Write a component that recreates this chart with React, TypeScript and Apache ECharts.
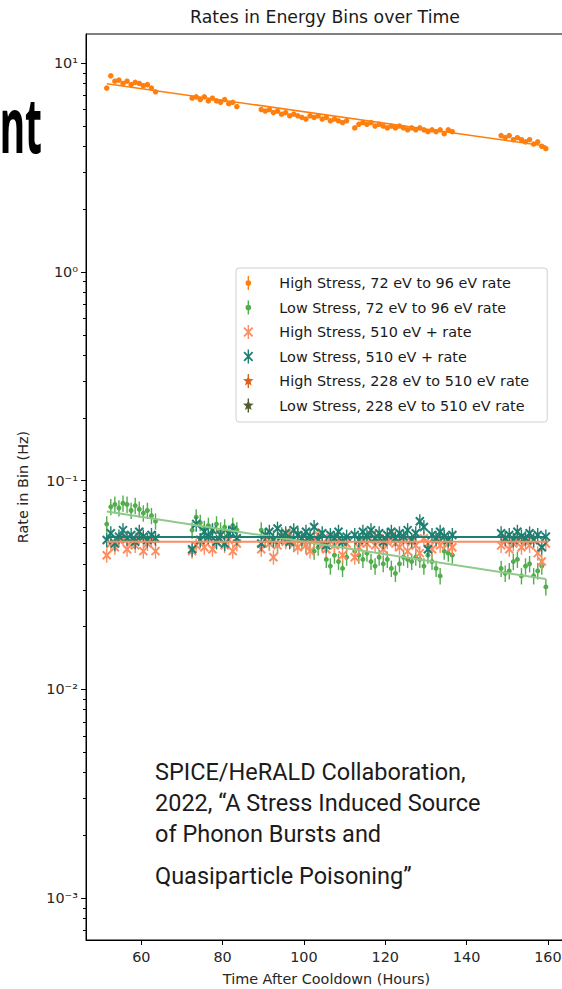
import React, { useEffect, useRef } from "react";
import * as echarts from "echarts";

// ---------- data ----------
const hours = [
  51.5, 52.5, 53.5, 54.5, 55.5, 56.5, 57.5, 58.5, 59.5, 60.5, 61.5, 62.5, 63.5,
  72.5, 73.5, 74.5, 75.5, 76.5, 77.5, 78.5, 79.5, 80.5, 81.5, 82.5, 83.5,
  89.5, 90.5, 91.5, 92.5, 93.5, 94.5, 95.5, 96.5, 97.5, 98.5, 99.5, 100.5, 101.5, 102.5, 103.5, 104.5, 105.5, 106.5, 107.5, 108.5, 109.5, 110.5,
  112.5, 113.5, 114.5, 115.5, 116.5, 117.5, 118.5, 119.5, 120.5, 121.5, 122.5, 123.5, 124.5, 125.5, 126.5, 127.5, 128.5, 129.5, 130.5, 131.5, 132.5, 133.5, 134.5, 135.5, 136.5,
  148.5, 149.5, 150.5, 151.5, 152.5, 153.5, 154.5, 155.5, 156.5, 157.5, 158.5, 159.5,
];

const highStress72to96 = [
  7.6, 8.7, 8.2, 8.3, 8.0, 8.2, 7.9, 8.1, 8.0, 7.8, 7.9, 7.6, 7.3,
  6.8, 6.9, 6.7, 6.9, 6.6, 6.8, 6.6, 6.5, 6.7, 6.4, 6.5, 6.2,
  6.0, 5.9, 6.0, 5.8, 5.9, 5.7, 5.8, 5.6, 5.7, 5.6, 5.5, 5.4, 5.6, 5.5, 5.6, 5.4, 5.5, 5.3, 5.4, 5.3, 5.2, 5.3,
  4.9, 5.1, 5.2, 5.1, 5.2, 5.0, 5.1, 5.0, 4.9, 5.0, 4.9, 5.0, 4.9, 4.8, 4.9, 4.8, 4.9, 4.8, 4.7, 4.8, 4.7, 4.8, 4.6, 4.8, 4.7,
  4.5, 4.4, 4.5, 4.3, 4.4, 4.3, 4.2, 4.3, 4.1, 4.2, 4.0, 3.9,
];

const lowStress72to96 = [
  0.062, 0.075, 0.077, 0.074, 0.078, 0.077, 0.072, 0.076, 0.073, 0.070, 0.072, 0.068, 0.064,
  0.058, 0.067, 0.063, 0.059, 0.061, 0.057, 0.062, 0.058, 0.060, 0.056, 0.061, 0.058,
  0.058, 0.054, 0.051, 0.053, 0.049, 0.055, 0.052, 0.054, 0.050, 0.056, 0.051, 0.049, 0.052, 0.046, 0.048, 0.050, 0.042, 0.039, 0.044, 0.041, 0.038, 0.043,
  0.046, 0.044, 0.042, 0.045, 0.041, 0.039, 0.043, 0.040, 0.042, 0.038, 0.036, 0.040, 0.043, 0.042, 0.041, 0.043, 0.042, 0.039, 0.044, 0.041, 0.038, 0.035, 0.046, 0.045, 0.044,
  0.038, 0.036, 0.037, 0.041, 0.042, 0.035, 0.039, 0.040, 0.035, 0.037, 0.039, 0.031,
];

const highStress510plus = [
  0.044, 0.050, 0.048, 0.052, 0.053, 0.047, 0.051, 0.049, 0.054, 0.046, 0.050, 0.052, 0.046,
  0.046, 0.049, 0.052, 0.048, 0.053, 0.047, 0.051, 0.055, 0.049, 0.052, 0.046, 0.050,
  0.047, 0.052, 0.050, 0.043, 0.049, 0.054, 0.051, 0.056, 0.050, 0.048, 0.053, 0.049, 0.046, 0.052, 0.055, 0.050, 0.047, 0.053, 0.049, 0.051, 0.044, 0.050,
  0.043, 0.048, 0.052, 0.050, 0.055, 0.049, 0.053, 0.047, 0.051, 0.054, 0.050, 0.048, 0.052, 0.046, 0.051, 0.049, 0.045, 0.053, 0.050, 0.047, 0.052, 0.049, 0.054, 0.050, 0.048,
  0.049, 0.052, 0.047, 0.050, 0.053, 0.048, 0.051, 0.049, 0.052, 0.045, 0.041, 0.050,
];

const lowStress510plus = [
  0.052, 0.056, 0.050, 0.054, 0.058, 0.053, 0.055, 0.051, 0.057, 0.054, 0.052, 0.055, 0.053,
  0.047, 0.062, 0.052, 0.057, 0.054, 0.058, 0.051, 0.055, 0.050, 0.056, 0.058, 0.053,
  0.050, 0.055, 0.057, 0.052, 0.059, 0.054, 0.056, 0.051, 0.058, 0.055, 0.053, 0.057, 0.054, 0.060, 0.052, 0.056, 0.049, 0.055, 0.053, 0.057, 0.051, 0.054,
  0.055, 0.052, 0.057, 0.054, 0.058, 0.053, 0.056, 0.051, 0.055, 0.057, 0.053, 0.056, 0.054, 0.058, 0.052, 0.056, 0.064, 0.060, 0.047, 0.055, 0.053, 0.057, 0.054, 0.052, 0.055,
  0.056, 0.053, 0.055, 0.052, 0.057, 0.054, 0.053, 0.056, 0.052, 0.055, 0.048, 0.054,
];

const highStress228to510: number[] = [];
const lowStress228to510: number[] = [];

// relative errors (fraction of value)
const relErrHigh72 = 0.02;
const relErrLow72 = 0.09;
const relErrHigh510 = 0.08;
const relErrLow510 = 0.08;

// fitted exponential lines: [start hour, end hour] and rates
const fitHours = [51.5, 159.5];
const fitHigh72 = [7.97, 4.01];
const fitLow72 = [0.0713, 0.0338];
const fitHigh510 = [0.051, 0.051];
const fitLow510 = [0.0537, 0.0537];

const seriesNames = [
  "High Stress, 72 eV to 96 eV rate",
  "Low Stress, 72 eV to 96 eV rate",
  "High Stress, 510 eV + rate",
  "Low Stress, 510 eV + rate",
  "High Stress, 228 eV to 510 eV rate",
  "Low Stress, 228 eV to 510 eV rate",
];

const xTickValues = [60, 80, 100, 120, 140, 160];
const yDecades = [-3, -2, -1, 0, 1];
const yTickLabels = ["10⁻³", "10⁻²", "10⁻¹", "10⁰", "10¹"];
const minorFactors = [2, 3, 4, 5, 6, 7, 8, 9];

const annotationLines = [
  "SPICE/HeRALD Collaboration,",
  "2022, “A Stress Induced Source",
  "of Phonon Bursts and",
  "Quasiparticle Poisoning”",
];

// ---------- styles ----------
const C_ORANGE = "#ff7f0e";
const C_GREEN = "#52ad4c";
const C_GREEN_LINE = "#8fc98b";
const C_CORAL = "#fc8d62";
const C_TEAL = "#1c7f71";
const C_DKORANGE = "#d6641c";
const C_OLIVE = "#4f5b31";
const FONT = "DejaVu Sans";

const ICON_DOT = "path://M4.5,0H5.5V10H4.5Z M3,5A2,2 0 1,1 7,5A2,2 0 1,1 3,5Z";
const ICON_X =
  "path://M4.5,0H5.5V10H4.5Z M1.5,2.4L2.4,1.5L5,4.1L7.6,1.5L8.5,2.4L5.9,5L8.5,7.6L7.6,8.5L5,5.9L2.4,8.5L1.5,7.6L4.1,5Z";
const ICON_STAR =
  "path://M4.5,0H5.5V10H4.5Z M5,1L6,3.62L8.8,3.76L6.62,5.53L7.35,8.24L5,6.7L2.65,8.24L3.38,5.53L1.2,3.76L4,3.62Z";

const log10 = (v: number) => Math.log10(v);

function errSeries(
  name: string,
  values: number[],
  relErr: number,
  color: string,
  marker: "dot" | "x" | "star",
  size: number,
  z: number
) {
  return {
    name,
    type: "custom",
    coordinateSystem: "cartesian2d",
    itemStyle: { color },
    encode: { x: 0, y: 1 },
    z,
    clip: true,
    data: values.map((v, i) => [
      hours[i],
      log10(v),
      log10(v * (1 - relErr)),
      log10(v * (1 + relErr)),
    ]),
    renderItem: (params: any, api: any) => {
      const t = api.value(0);
      const p = api.coord([t, api.value(1)]);
      const lo = api.coord([t, api.value(2)]);
      const hi = api.coord([t, api.value(3)]);
      const children: any[] = [
        {
          type: "line",
          shape: { x1: p[0], y1: lo[1], x2: p[0], y2: hi[1] },
          style: { stroke: color, lineWidth: 1.4 },
        },
      ];
      if (marker === "dot") {
        children.push({
          type: "circle",
          shape: { cx: p[0], cy: p[1], r: size / 2 },
          style: { fill: color },
        });
      } else {
        const h = size / 2;
        children.push(
          {
            type: "line",
            shape: { x1: p[0] - h, y1: p[1] - h, x2: p[0] + h, y2: p[1] + h },
            style: { stroke: color, lineWidth: 2 },
          },
          {
            type: "line",
            shape: { x1: p[0] - h, y1: p[1] + h, x2: p[0] + h, y2: p[1] - h },
            style: { stroke: color, lineWidth: 2 },
          }
        );
      }
      return { type: "group", children };
    },
  };
}

function fitSeries(name: string, rates: number[], color: string, width: number, z: number) {
  return {
    name,
    type: "line",
    showSymbol: false,
    symbol: "none",
    silent: true,
    z,
    lineStyle: { color, width },
    itemStyle: { color },
    data: fitHours.map((h, i) => [h, log10(rates[i])]),
  };
}

export default function App() {
  const ref = useRef<HTMLDivElement>(null);

  useEffect(() => {
    document.body.style.margin = "0";
    if (!ref.current) return;
    const chart = echarts.init(ref.current, undefined, { renderer: "svg" });

    const minorTicks: number[] = [];
    for (let d = -4; d <= 1; d++) {
      for (const k of minorFactors) {
        const v = d + log10(k);
        if (v > -3.2 && v < 1.14) minorTicks.push(v);
      }
    }

    const option: any = {
      animation: false,
      backgroundColor: "#ffffff",
      textStyle: { fontFamily: FONT },
      grid: {
        left: 86,
        top: 34,
        right: -5,
        bottom: 49,
        outerBoundsMode: "none",
        containLabel: false,
        show: true,
        borderColor: "#000",
        borderWidth: 1,
        backgroundColor: "transparent",
      },
      xAxis: {
        type: "value",
        min: 46.4,
        max: 164.7,
        splitLine: { show: false },
        axisLine: { show: true, onZero: false, lineStyle: { color: "#000", width: 1 } },
        axisTick: { show: true, customValues: xTickValues, length: 5, lineStyle: { color: "#000" } },
        axisLabel: {
          customValues: xTickValues,
          fontSize: 14.4,
          color: "#262626",
          margin: 10,
          fontFamily: FONT,
        },
        name: "Time After Cooldown (Hours)",
        nameLocation: "middle",
        nameGap: 32,
        nameTextStyle: { fontSize: 14.4, color: "#262626", fontFamily: FONT },
      },
      yAxis: [
        {
          type: "value",
          min: -3.2,
          max: 1.14,
          splitLine: { show: false },
          axisLine: { show: true, onZero: false, lineStyle: { color: "#000", width: 1 } },
          axisTick: { show: true, customValues: yDecades, length: 5, lineStyle: { color: "#000" } },
          axisLabel: {
            customValues: yDecades,
            formatter: (v: number) => yTickLabels[yDecades.indexOf(Math.round(v))] ?? "",
            fontSize: 14.4,
            color: "#262626",
            margin: 8,
            fontFamily: FONT,
          },
          name: "Rate in Bin (Hz)",
          nameLocation: "middle",
          nameGap: 56,
          nameRotate: 90,
          nameTextStyle: { fontSize: 14.4, color: "#262626", fontFamily: FONT },
        },
        {
          type: "value",
          min: -3.2,
          max: 1.14,
          position: "left",
          splitLine: { show: false },
          axisLine: { show: false },
          axisLabel: { show: false },
          axisTick: { show: true, customValues: minorTicks, length: 3, lineStyle: { color: "#000" } },
        },
      ],
      legend: {
        orient: "vertical",
        left: 236,
        top: 268,
        padding: [7, 18, 8.5, 7],
        itemWidth: 14,
        itemHeight: 14,
        itemGap: 8.5,
        borderColor: "#d0d0d0",
        borderWidth: 1,
        borderRadius: 3,
        backgroundColor: "rgba(255,255,255,0.85)",
        textStyle: {
          fontSize: 14.4,
          color: "#1a1a1a",
          fontFamily: FONT,
          lineHeight: 16,
          padding: [0, 0, 0, 19],
        },
        data: [
          { name: seriesNames[0], icon: ICON_DOT },
          { name: seriesNames[1], icon: ICON_DOT },
          { name: seriesNames[2], icon: ICON_X },
          { name: seriesNames[3], icon: ICON_X },
          { name: seriesNames[4], icon: ICON_STAR },
          { name: seriesNames[5], icon: ICON_STAR },
        ],
      },
      graphic: [
        {
          type: "text",
          x: 42,
          y: 123,
          scaleX: 0.5,
          style: {
            text: "nt",
            font: 'bold 78px "Noto Sans"',
            fill: "#000",
            textAlign: "right",
            textVerticalAlign: "middle",
          },
        },
        {
          type: "text",
          x: 325,
          y: 17,
          style: {
            text: "Rates in Energy Bins over Time",
            font: `17.3px "${FONT}"`,
            fill: "#1a1a1a",
            textAlign: "center",
            textVerticalAlign: "middle",
          },
        },
        ...annotationLines.map((line, i) => ({
          type: "text",
          x: 155,
          y: [772, 803, 834, 876][i],
          style: {
            text: line,
            font: '23.5px "Roboto"',
            fill: "#1b1b1b",
            textAlign: "left",
            textVerticalAlign: "middle",
          },
        })),
      ],
      series: [
        errSeries(seriesNames[0], highStress72to96, relErrHigh72, C_ORANGE, "dot", 5.5, 3),
        fitSeries("fit high 72-96", fitHigh72, C_ORANGE, 1.6, 4),
        errSeries(seriesNames[1], lowStress72to96, relErrLow72, C_GREEN, "dot", 5, 3),
        fitSeries("fit low 72-96", fitLow72, C_GREEN_LINE, 2, 4),
        errSeries(seriesNames[2], highStress510plus, relErrHigh510, C_CORAL, "x", 8, 3),
        fitSeries("fit high 510+", fitHigh510, C_CORAL, 2, 4),
        errSeries(seriesNames[3], lowStress510plus, relErrLow510, C_TEAL, "x", 8, 3),
        fitSeries("fit low 510+", fitLow510, C_TEAL, 2, 4),
        errSeries(seriesNames[4], highStress228to510, 0.05, C_DKORANGE, "star", 7, 3),
        errSeries(seriesNames[5], lowStress228to510, 0.05, C_OLIVE, "star", 7, 3),
      ],
    };

    chart.setOption(option);
    return () => chart.dispose();
  }, []);

  return <div ref={ref} style={{ width: 562, height: 989 }} />;
}
